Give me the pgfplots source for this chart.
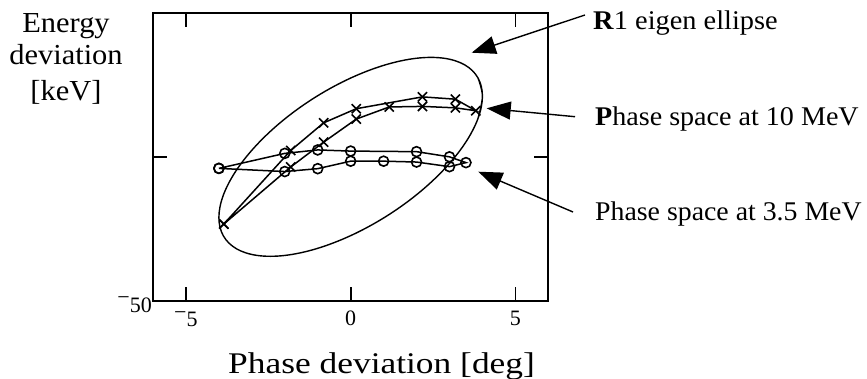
\documentclass[border=0pt]{standalone}
\usepackage{pgfplots}
\pgfplotsset{compat=1.18}
\usepackage{pgfplotstable}
\usepackage{graphicx}
\usepackage{fontspec}
\setmainfont{Liberation Serif}
\usetikzlibrary{arrows.meta}

% horizontally widened text, as in the original figure's typeface
\newcommand{\wide}[2]{\scalebox{#1}[1]{#2}}
% raised minus used on the tick labels
\newcommand{\rmin}{\raisebox{0.36em}{−}}

% phase space of the bunch at 3.5 MeV (phase [deg], energy [keV])
\pgfplotstableread{
x y
-4.0 -4.0
-2.0 1.2
-1.0 2.4
0.0 2.0
2.0 1.8
3.0 0.0
3.5 -2.0
3.0 -3.4
2.0 -1.8
1.0 -1.5
0.0 -1.5
-1.0 -4.1
-2.0 -5.1
-4.0 -4.0
}\lowE

% phase space of the bunch at 10 MeV
\pgfplotstableread{
x y
-3.85 -23.3
-1.82 2.2
-0.82 11.8
0.17 16.7
2.18 20.8
3.18 20.0
3.80 16.0
3.18 17.0
2.18 17.5
1.17 17.3
0.17 13.1
-0.82 5.1
-1.82 -3.5
-3.85 -23.3
}\highE

% R1 eigen ellipse, sampled every 15 degrees (first and last points repeated to close it smoothly)
\pgfplotstableread{
x y
3.864 27.41
4.000 21.05
3.864 13.26
3.464 4.56
2.828 -4.44
2.000 -13.15
1.035 -20.96
0.000 -27.33
-1.035 -31.85
-2.000 -34.20
-2.828 -34.21
-3.464 -31.90
-3.864 -27.41
-4.000 -21.05
-3.864 -13.26
-3.464 -4.56
-2.828 4.44
-2.000 13.15
-1.035 20.96
0.000 27.33
1.035 31.85
2.000 34.20
2.828 34.21
3.464 31.90
3.864 27.41
4.000 21.05
3.864 13.26
}\eigen

\begin{document}
\begin{tikzpicture}
\path[use as bounding box] (0pt,0pt) rectangle (867pt,378pt);
\begin{axis}[
  at={(153pt,77pt)}, anchor=south west,
  scale only axis, width=395.3pt, height=288.3pt,
  xmin=-6, xmax=6, ymin=-50, ymax=50,
  axis line style={line width=1.7pt},
  xtick={-5,0,5}, xticklabels={{\rmin5},0,5},
  ytick={-50,0}, yticklabels={{\rmin50},{}},
  tick align=inside, xtick pos=both, ytick pos=both,
  major tick length=14pt,
  every tick/.style={black, line width=1.7pt},
  tick label style={font=\fontsize{22}{22}\selectfont},
  xticklabel style={inner sep=0pt, yshift=-10pt},
  yticklabel style={inner sep=0pt, xshift=-1pt, yshift=-4pt},
  clip=false,
]
\addplot[black, line width=1.4pt, smooth, tension=0.6] table {\eigen};
\addplot[black, line width=1.5pt, mark=o, mark size=5pt,
  mark options={line width=1.6pt}] table {\lowE};
\addplot[black, line width=1.5pt, mark=x, mark size=6.5pt,
  mark options={line width=1.6pt}] table {\highE};
\end{axis}

% axis titles
\begin{scope}[every node/.style={anchor=base, inner sep=0pt, font=\fontsize{29}{34}\selectfont}]
\node at (66pt,345pt) {\wide{1.05}{Energy}};
\node at (66pt,313pt) {\wide{1.05}{deviation}};
\node at (66pt,277pt) {\wide{1.05}{[keV]}};
\end{scope}
\node[anchor=base west, inner sep=0pt, font=\fontsize{30}{34}\selectfont]
  at (228pt,5pt) {\wide{1.18}{Phase deviation [deg]}};

% annotations
\begin{scope}[every node/.style={anchor=base west, inner sep=0pt, font=\fontsize{27}{32}\selectfont}]
\node at (593pt,348pt) {\wide{1.05}{\textbf{R}1 eigen ellipse}};
\node at (595pt,252pt) {\wide{1.04}{\textbf{P}hase space at 10 MeV}};
\node at (595pt,158pt) {\wide{1.03}{Phase space at 3.5 MeV}};
\end{scope}
\begin{scope}[line width=1.4pt, -{Triangle[length=24pt,width=18pt]}]
\draw (585pt,363pt) -- (471.7pt,325.3pt);
\draw (575pt,261.3pt) -- (486.7pt,269.7pt);
\draw (573pt,166pt) -- (478.3pt,206.3pt);
\end{scope}
\end{tikzpicture}
\end{document}
